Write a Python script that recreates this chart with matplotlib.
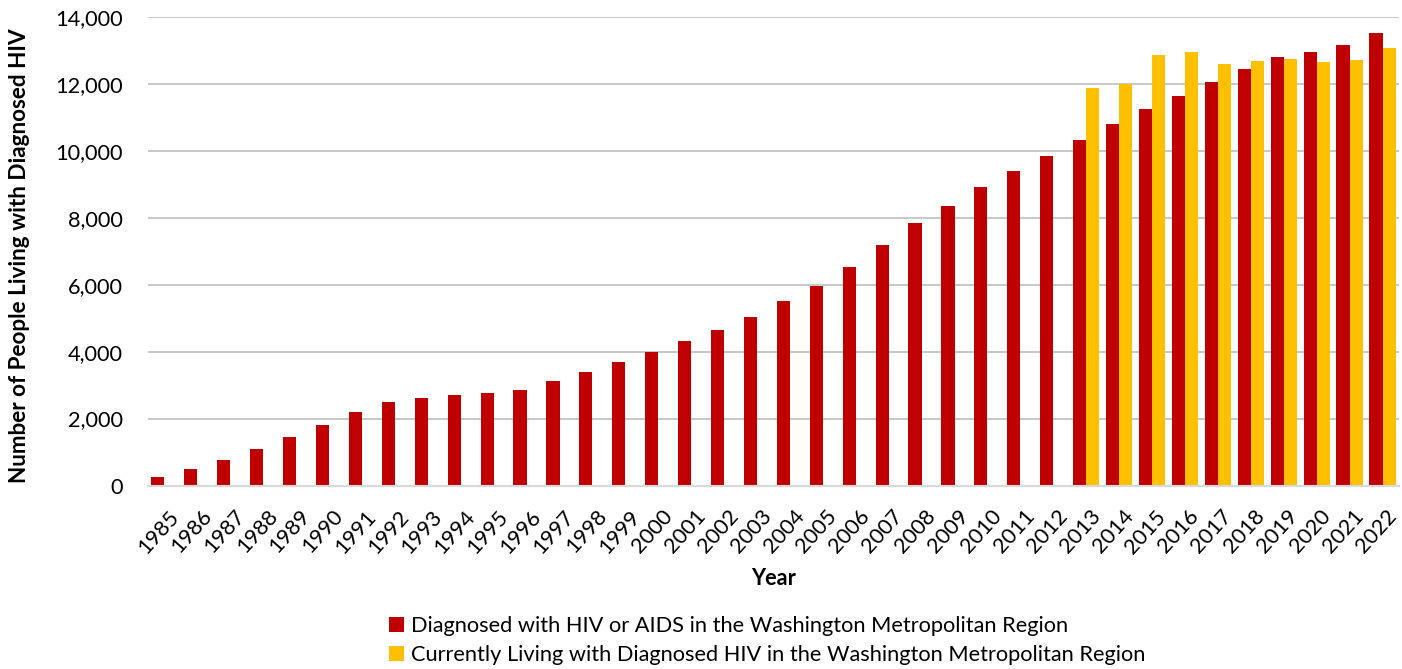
import matplotlib
matplotlib.use("Agg")
import matplotlib.pyplot as plt
import numpy as np
from matplotlib.ticker import FuncFormatter

years = list(range(1985, 2023))
diagnosed = [260, 480, 770, 1090, 1460, 1820, 2210, 2500, 2620, 2700, 2750, 2860,
             3110, 3380, 3690, 4000, 4310, 4650, 5030, 5500, 5970, 6520, 7190, 7840,
             8340, 8910, 9390, 9860, 10310, 10800, 11250, 11650, 12070, 12450,
             12790, 12960, 13170, 13520]
living = [np.nan] * 28 + [11870, 12000, 12870, 12960, 12600, 12680, 12730, 12660, 12710, 13080]

label_diag = "Diagnosed with HIV or AIDS in the Washington Metropolitan Region"
label_living = "Currently Living with Diagnosed HIV in the Washington Metropolitan Region"

plt.rcParams['font.family'] = ['Lato', 'DejaVu Sans']
FS = 15.7

fig = plt.figure(figsize=(14.02, 6.69), dpi=100)
ax = fig.add_axes([148/1402, 1 - 485.5/669, 1251/1402, 468.5/669])

x = np.arange(len(years))
w = 0.4
ax.bar(x - w/2, diagnosed, width=w, color='#C00000', label=label_diag, zorder=3)
ax.bar(x + w/2, living, width=w, color='#FFC000', label=label_living, zorder=3)

ax.set_xlim(-0.5, len(years) - 0.5)
ax.set_ylim(0, 14000)
ax.set_yticks(np.arange(0, 14001, 2000))
ax.yaxis.set_major_formatter(FuncFormatter(lambda v, p: f"{int(v):,}"))
ax.grid(axis='y', color='#BFBFBF', linewidth=1.2, zorder=0)
ax.set_axisbelow(True)
for s in ['top', 'right', 'left']:
    ax.spines[s].set_visible(False)
ax.spines['bottom'].set_color('#D9D9D9')
ax.spines['bottom'].set_linewidth(1.5)
ax.spines['bottom'].set_zorder(4)

ax.set_xticks(x + 0.1)
ax.set_xticklabels([str(y) for y in years], rotation=48, ha='right',
                   rotation_mode='anchor', fontsize=FS)
ax.tick_params(axis='x', length=0, pad=15)
ax.tick_params(axis='y', length=0, pad=18, labelsize=FS)

ax.set_xlabel("Year", fontsize=FS, fontweight='bold', labelpad=8)
fig.text(20/1402, 1 - 256/669, "Number of People Living with Diagnosed HIV",
         rotation=90, ha='center', va='center', fontsize=FS + 0.5, fontweight='bold')

handles, labels = ax.get_legend_handles_labels()
fig.legend(handles, labels, loc='upper left', bbox_to_anchor=(389/1402, 1 - 616/669),
           frameon=False, fontsize=FS, handlelength=0.7, handleheight=0.7,
           handletextpad=0.3, labelspacing=0.42, borderaxespad=0, borderpad=0)

fig.savefig("out.png", dpi=100)
